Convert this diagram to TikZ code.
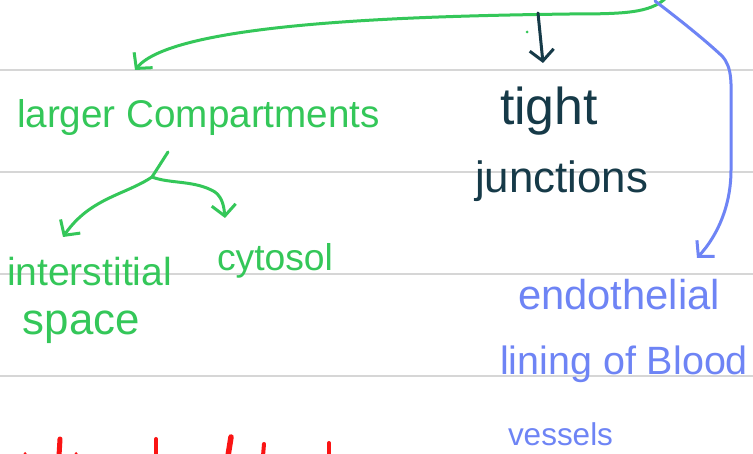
\documentclass[tikz,border=0pt]{standalone}
\usepackage{fontspec}
\setmainfont{Liberation Sans}
\usetikzlibrary{arrows.meta}
\definecolor{pengreen}{RGB}{52,199,89}
\definecolor{penblue}{RGB}{110,132,245}
\definecolor{pendark}{RGB}{22,58,72}
\definecolor{penred}{RGB}{250,20,20}
\definecolor{rulegray}{RGB}{214,214,214}
\newcommand{\hwtext}[2]{\resizebox{#1pt}{!}{\fontsize{40}{48}\selectfont #2}}
\tikzset{
  ruling/.style={rulegray, line width=2pt},
  label/.style={anchor=base west, inner sep=0pt, outer sep=0pt},
  greentext/.style={label, text=pengreen},
  bluetext/.style={label, text=penblue},
  darktext/.style={label, text=pendark},
  penline/.style={line width=3pt, line cap=round, line join=round},
  barb/.style={-{Straight Barb[length=11pt,width=24pt,line width=3pt]}},
  greenarrow/.style={penline, pengreen, barb},
  bluearrow/.style={penline, penblue, barb},
  darkarrow/.style={penline, pendark, barb},
  redmark/.style={penred, line width=4pt, line cap=round},
}
\begin{document}
\begin{tikzpicture}[x=1pt,y=-1pt]
\fill[white] (0,0) rectangle (753,454);
\useasboundingbox (0,0) rectangle (753,454);
% ruled lines
\foreach \yy in {70,172,274,376} \draw[ruling] (0,\yy) -- (753,\yy);

% texts
\node[greentext] (larger) at (17,128) {\hwtext{363}{larger Compartments}};
\node[darktext] (tight) at (500,125) {\hwtext{98}{tight}};
\node[darktext] (junctions) at (475,193) {\hwtext{173}{junctions}};
\node[greentext] (inter) at (7,286) {\hwtext{165}{interstitial}};
\node[greentext] (space) at (23,335) {\hwtext{117}{space}};
\node[greentext] (cytosol) at (217,271) {\hwtext{116}{cytosol}};
\node[bluetext] (endo) at (518,310) {\hwtext{202}{endothelial}};
\node[bluetext] (lining) at (500,375) {\hwtext{248}{lining of Blood}};
\node[bluetext] (vessels) at (508,446) {\hwtext{105}{vessels}};

% coordinates for connector ends
\coordinate (origin) at (655,1);
\coordinate (gstart) at (666,-2);
\coordinate (largertip) at (135,70);
\coordinate (darkstart) at (538,13);
\coordinate (tighttip) at (543,63);
\coordinate (stem) at (168,152);
\coordinate (split) at (152,177);
\coordinate (intertip) at (63,237);
\coordinate (cytotip) at (225,218);
\coordinate (endotip) at (697,258);

% green top arrow
\draw[greenarrow] (gstart) .. controls (650,13) and (625,14) .. (570,14)
  .. controls (420,16) and (175,22) .. (largertip);
% blue arrow
\draw[bluearrow] (origin) .. controls (680,20) and (705,40) .. (722,56)
  .. controls (733,68) and (731,85) .. (731,110) -- (731,170)
  .. controls (731,205) and (718,235) .. (endotip);
% dark arrow
\draw[darkarrow] (darkstart) -- (tighttip);
\fill[pengreen] (527,32) circle (1.5pt);
% green branches
\draw[penline, pengreen] (stem) -- (split);
\draw[greenarrow] (split) .. controls (125,195) and (90,198) .. (intertip);
\draw[greenarrow] (split) .. controls (170,184) and (195,180) .. (215,192)
  .. controls (223,198) and (224,208) .. (cytotip);

% red fragments at the bottom edge
\fill[penred] (25,453.5) circle (1.5pt);
\draw[redmark, line width=5pt] (60,439) -- (59,456);
\fill[penred] (76,453.5) circle (1.5pt);
\draw[redmark] (156,439) -- (156,456);
\draw[redmark, line width=5.5pt] (231,437) -- (228,456);
\draw[redmark] (264,444) -- (263,456);
\draw[redmark] (329,443) -- (329,456);
\end{tikzpicture}
\end{document}
